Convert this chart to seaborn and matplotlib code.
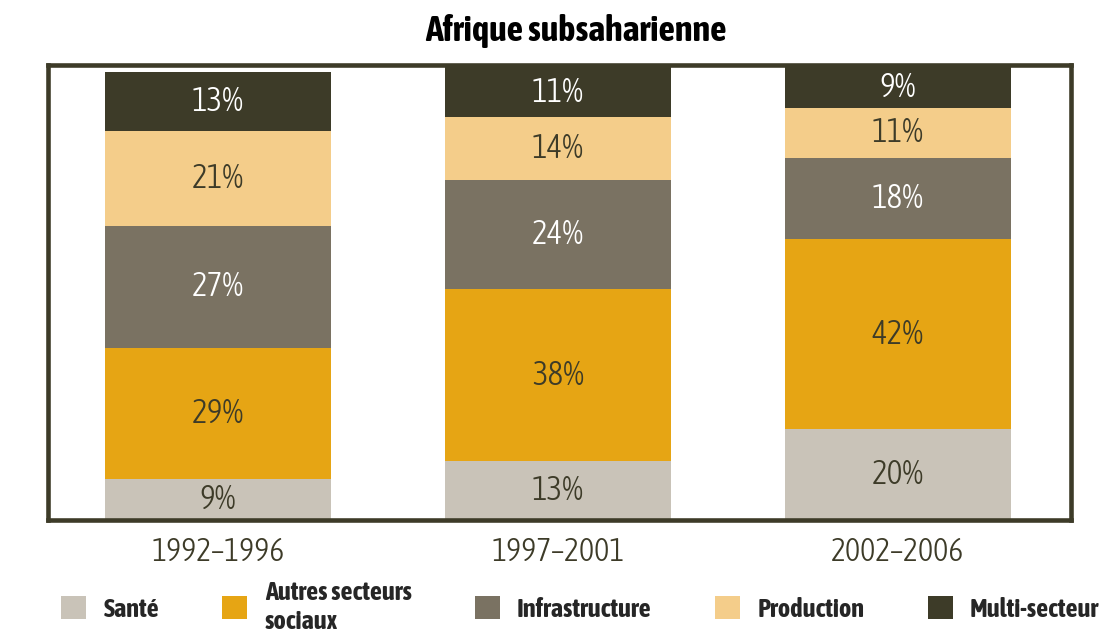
import matplotlib
matplotlib.use('Agg')

import matplotlib.pyplot as plt
from matplotlib import font_manager as fm
import seaborn as sns
import pandas as pd
from matplotlib.patches import Patch

# =========================
# DATA
# =========================
periods = ["1992\u20131996", "1997\u20132001", "2002\u20132006"]
sectors = ["Santé", "Autres secteurs\nsociaux", "Infrastructure", "Production", "Multi-secteur"]
sante = [9, 13, 20]
autres = [29, 38, 42]
infra = [27, 24, 18]
production = [21, 14, 11]
multi = [13, 11, 9]

colors = ["#c9c3b8", "#e6a514", "#7a7262", "#f4cd8a", "#3d3b28"]
text_colors = ["#3d3b28", "#3d3b28", "white", "#3d3b28", "white"]

series = [sante, autres, infra, production, multi]
df = pd.DataFrame({"period": periods})
for name, vals in zip(sectors, series):
    df[name] = vals
cum = df[sectors].cumsum(axis=1)

# =========================
# FONTS: pick narrow faces (light for numbers, bold for title/legend)
# =========================
def wnum(w):
    return w if isinstance(w, int) else fm.weight_dict.get(w, 400)

stretch_pen = {"condensed": 0, "semi-condensed": 150, "extra-condensed": 250,
               "ultra-condensed": 400}
cands = [f for f in fm.fontManager.ttflist
         if f.style == "normal" and "Italic" not in f.fname
         and f.stretch in stretch_pen]

def pick(target_w, family=None):
    pool = [f for f in cands if family is None or f.name == family]
    if not pool:
        pool = cands
    if not pool:
        return None
    return min(pool, key=lambda f: abs(wnum(f.weight) - target_w) + stretch_pen[f.stretch])

lf = pick(300)
bf = pick(700, lf.name if lf else None)
light_fp = fm.FontProperties(fname=lf.fname) if lf else fm.FontProperties(family="DejaVu Sans")
bold_fp = fm.FontProperties(fname=bf.fname) if bf else fm.FontProperties(family="DejaVu Sans", weight="bold")

def fp(base, size):
    p = base.copy()
    p.set_size(size)
    return p

# =========================
# PLOT
# =========================
sns.set_style("white")

fig = plt.figure(figsize=(11.07, 6.44), dpi=100)
ax = fig.add_axes([0.0434, 0.1925, 0.9245, 0.7065])

# stacked bars: draw cumulative totals from top down
for i in range(len(sectors) - 1, -1, -1):
    sns.barplot(x=df["period"], y=cum[sectors[i]], color=colors[i],
                width=0.665, saturation=1, linewidth=0, ax=ax, order=periods)

# value labels
for j in range(len(periods)):
    for i, name in enumerate(sectors):
        top = cum[name].iloc[j]
        val = df[name].iloc[j]
        ax.text(j, top - val / 2, f"{val}%", ha="center", va="center",
                color=text_colors[i], fontproperties=fp(light_fp, 24))

ax.set_xlim(-0.49, 2.51)
ax.set_ylim(0, 100.5)
ax.set_xlabel("")
ax.set_ylabel("")
ax.set_yticks([])

for s in ax.spines.values():
    s.set_visible(True)
    s.set_color("#3d3b28")
    s.set_linewidth(3.3)

ax.set_xticks([0, 1, 2])
ax.set_xticklabels(periods, color="#3d3b28", fontproperties=fp(light_fp, 23))
ax.tick_params(axis="x", which="major", length=0, pad=12)
ax.set_xticks([-0.5, 0.5, 1.5, 2.5], minor=True)
ax.tick_params(axis="x", which="minor", length=9, width=1.5, color="#aaaaaa")

fig.suptitle("Afrique subsaharienne", x=0.52, y=0.978, color="black",
             fontproperties=fp(bold_fp, 26))

handles = [Patch(facecolor=c, edgecolor="none") for c in colors]
fig.legend(handles, sectors, loc="center", bbox_to_anchor=(0.524, 0.058), ncol=5,
           frameon=False, handlelength=0.95, handleheight=0.95, handletextpad=0.65,
           columnspacing=2.4, labelspacing=0.1, prop=fp(bold_fp, 19))

plt.savefig("out.png", dpi=100)
plt.close()
